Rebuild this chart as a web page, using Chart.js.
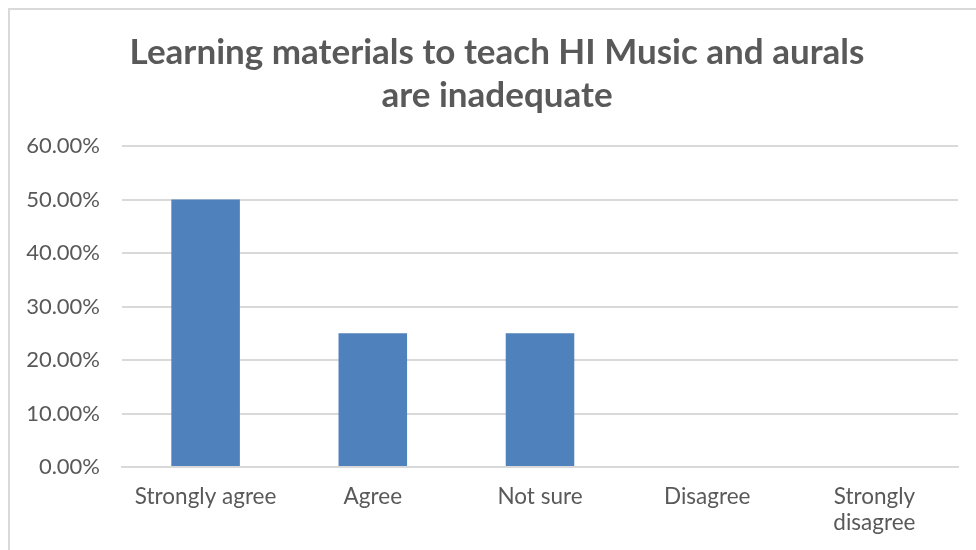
<!DOCTYPE html>
<html><head><meta charset="utf-8">
<script src="https://cdn.jsdelivr.net/npm/chart.js@4"></script>
<style>
html,body{margin:0;padding:0;background:#fff;}
#frame{position:absolute;left:8px;top:8px;width:1000px;height:600px;border:2px solid #d9d9d9;box-sizing:border-box;}
#wrap{position:absolute;left:0;top:0;width:976px;height:550px;}
</style></head>
<body>
<div id="frame"></div>
<div id="wrap"><canvas id="c" width="976" height="550"></canvas></div>
<script>
const titleLines = ['Learning materials to teach HI Music and aurals', 'are inadequate'];
const categories = ['Strongly agree', 'Agree', 'Not sure', 'Disagree', ['Strongly', 'disagree']];
const values = [50, 25, 25, 0, 0];
const yTicks = { min: 0, max: 60, step: 10 };

const FONT = 'Lato, "Open Sans", sans-serif';
const GREY = '#595959';
const shiftTitle = {
  id: 'shiftTitle',
  afterLayout(chart) { if (chart.titleBlock) { chart.titleBlock.left += 36; } }
};
new Chart(document.getElementById('c'), {
  type: 'bar',
  data: { labels: categories, datasets: [{ data: values, backgroundColor: '#4F81BD', borderWidth: 0, barPercentage: 0.41, categoryPercentage: 1 }] },
  plugins: [shiftTitle],
  options: {
    responsive: false, animation: false,
    layout: { padding: { left: 0, right: 18, top: 0, bottom: 0 } },
    plugins: {
      legend: { display: false }, tooltip: { enabled: false },
      title: { display: true, text: titleLines, color: GREY, font: { family: FONT, size: 35, weight: 'bold', lineHeight: 1.23 }, padding: { top: 31, bottom: 29 } }
    },
    scales: {
      x: {
        afterFit: s => { s.height = 83; },
        grid: { display: false, drawTicks: false },
        border: { display: true, color: '#d9d9d9', width: 2 },
        ticks: { color: GREY, font: { family: FONT, size: 22.5, lineHeight: 1.16 }, padding: 17, maxRotation: 0, autoSkip: false }
      },
      y: {
        min: yTicks.min, max: yTicks.max,
        afterFit: s => { s.width = 122; },
        grid: { color: '#d9d9d9', lineWidth: 2, drawTicks: false },
        border: { display: false },
        ticks: { stepSize: yTicks.step, color: GREY, font: { family: FONT, size: 22 }, padding: 22, callback: v => v.toFixed(2) + '%' }
      }
    }
  }
});
</script>
</body></html>
